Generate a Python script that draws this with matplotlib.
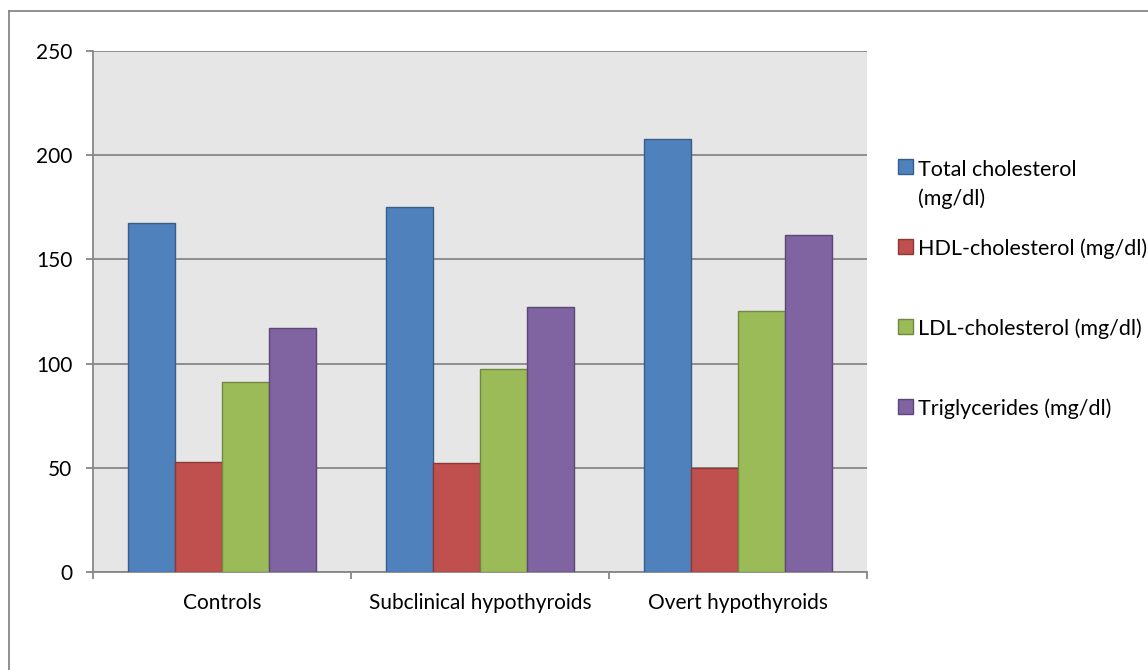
import numpy as np
import matplotlib.pyplot as plt
from matplotlib.lines import Line2D
from matplotlib.patches import Rectangle

groups = ["Controls", "Subclinical hypothyroids", "Overt hypothyroids"]
series_names = ["Total cholesterol\n(mg/dl)", "HDL-cholesterol (mg/dl)",
                "LDL-cholesterol (mg/dl)", "Triglycerides (mg/dl)"]
total_chol = [167.3, 175.3, 207.6]
hdl_chol = [52.6, 52.3, 50.1]
ldl_chol = [91.4, 97.4, 125.2]
triglycerides = [116.9, 127.2, 161.7]
y_ticks = [0, 50, 100, 150, 200, 250]

fills = ["#4F81BD", "#C0504D", "#9BBB59", "#8064A2"]
edges = ["#385D8A", "#8C3836", "#71893F", "#5C4776"]
grid_col = "#878787"
fs = 15

plt.rcParams['font.family'] = ['Lato', 'DejaVu Sans']
W, H = 1148, 670
fig = plt.figure(figsize=(W / 100, H / 100), dpi=100)
ax = fig.add_axes([93 / W, 1 - 572 / H, (867 - 93) / W, (572 - 51) / H])
ax.set_facecolor("#E6E6E6")

x = np.arange(len(groups))
bw = 1 / 5.5  # 150% gap width, Excel style
for i, vals in enumerate([total_chol, hdl_chol, ldl_chol, triglycerides]):
    ax.bar(x + (i - 1.5) * bw, vals, width=bw, color=fills[i],
           edgecolor=edges[i], linewidth=1.0, zorder=3)

ax.set_xlim(-0.5, 2.5)
ax.set_ylim(0, 250)
ax.set_yticks(y_ticks)
ax.yaxis.grid(True, color=grid_col, linewidth=1.3, zorder=1)
ax.set_axisbelow(True)

for s in ["top", "right"]:
    ax.spines[s].set_visible(False)
for s in ["left", "bottom"]:
    ax.spines[s].set_color(grid_col)
    ax.spines[s].set_linewidth(1.3)

ax.tick_params(axis="y", length=5, width=1.3, color=grid_col, pad=10,
               labelsize=fs, labelcolor="black")
ax.set_xticks(x)
ax.set_xticklabels(groups)
ax.set_xticks(np.arange(-0.5, 3.0, 1.0), minor=True)
ax.tick_params(axis="x", which="major", length=0, pad=15, labelsize=fs)
ax.tick_params(axis="x", which="minor", length=5, width=1.3, color=grid_col)

# legend drawn in pixel space on the right; square sits by the first line
rows = [167, 247, 327, 407]
for name, fc, ec, yy in zip(series_names, fills, edges, rows):
    fig.patches.append(Rectangle((898 / W, 1 - (yy + 7) / H), 15 / W, 15 / H,
                                 transform=fig.transFigure, facecolor=fc,
                                 edgecolor=ec, linewidth=1.0))
    extra = name.count("\n") * 11
    fig.text(918 / W, 1 - (yy + extra) / H, name, ha="left", va="center_baseline",
             fontsize=15.5, linespacing=1.55)

# chart frame (top and left edges visible)
fig.add_artist(Line2D([9 / W, 9 / W], [0, 1 - 11 / H], transform=fig.transFigure,
                      color=grid_col, linewidth=1.3))
fig.add_artist(Line2D([9 / W, 1], [1 - 11 / H, 1 - 11 / H], transform=fig.transFigure,
                      color=grid_col, linewidth=1.3))

fig.savefig("out.png", dpi=100)
